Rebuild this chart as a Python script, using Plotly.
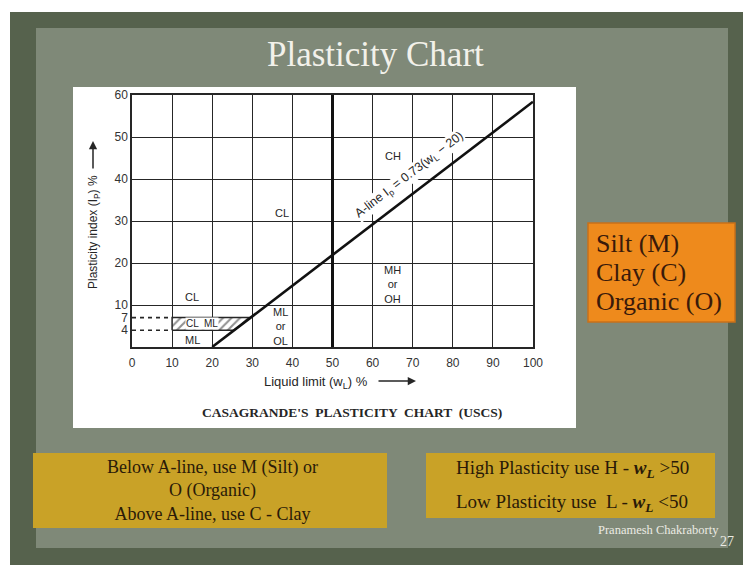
"""Casagrande plasticity chart on a slide, rebuilt with Plotly."""

import plotly.graph_objects as go

# ---- data -------------------------------------------------------------
x_ticks = [0, 10, 20, 30, 40, 50, 60, 70, 80, 90, 100]
y_ticks = [4, 7, 10, 20, 30, 40, 50, 60]
y_grid = [10, 20, 30, 40, 50, 60]

a_line_wl = [20, 100]
a_line_ip = [0.0, 58.4]

wl_boundary = [50, 50]
ip_boundary = [0, 60]

clml_wl = [10, 10, 29.6, 25.5, 10]
clml_ip = [4, 7, 7, 4, 4]

dash_wl = [0, 10]
dash_ip_low = [4, 4]
dash_ip_high = [7, 7]

zone_labels = ["CH", "CL", "CL", "MH<br>or<br>OH", "ML<br>or<br>OL", "ML"]
zone_wl = [65, 37.5, 15, 65, 37, 15.2]
zone_ip = [45.5, 31.8, 12, 15, 4.8, 1.6]

# ---- colours / fonts --------------------------------------------------
INK = "#262626"
SANS = "Liberation Sans, Arial"
SERIF = "Liberation Serif, Times New Roman, serif"

# plot area in pixels
L, R, T, B = 132, 533, 95, 347
W, H = 743, 565


def px(x):
    return (x - L) / (R - L)


def py(y):
    return (B - y) / (B - T)


def rect(x0, y0, x1, y1, fill, line=None, width=0):
    return dict(
        type="rect", xref="paper", yref="paper",
        x0=px(x0), x1=px(x1), y0=py(y1), y1=py(y0),
        fillcolor=fill, line=dict(color=line or fill, width=width),
        layer="below",
    )


def note(x, y, text, size, color, family=SERIF, xanchor="center", **kw):
    fig.add_annotation(
        xref="paper", yref="paper", x=px(x), y=py(y), text=text,
        xanchor=xanchor, yanchor="middle", showarrow=False,
        font=dict(family=family, size=size, color=color), **kw,
    )


def arrow(x0, y0, x1, y1):
    # tail (x0, y0) -> head (x1, y1), all in page pixels
    fig.add_annotation(
        xref="paper", yref="paper", x=px(x1), y=py(y1),
        ax=x0 - x1, ay=y0 - y1, axref="pixel", ayref="pixel", text="",
        showarrow=True, arrowhead=2, arrowsize=1.1, arrowwidth=1.5,
        arrowcolor=INK, standoff=0, startstandoff=0,
    )


fig = go.Figure()

# dashed guide lines for Ip = 4 and 7
for ys in (dash_ip_low, dash_ip_high):
    fig.add_trace(go.Scatter(
        x=dash_wl, y=ys, mode="lines",
        line=dict(color=INK, width=1.6, dash="4px,4px"),
        hoverinfo="skip",
    ))

# CL-ML hatched zone
fig.add_trace(go.Scatter(
    x=clml_wl, y=clml_ip, mode="lines", fill="toself",
    fillcolor="white",
    fillpattern=dict(shape="/", fgcolor=INK, bgcolor="white", size=6, solidity=0.35),
    line=dict(color=INK, width=1.5),
    hoverinfo="skip",
))

# wL = 50 boundary
fig.add_trace(go.Scatter(
    x=wl_boundary, y=ip_boundary, mode="lines",
    line=dict(color="#111", width=3), hoverinfo="skip",
))

# A-line
fig.add_trace(go.Scatter(
    x=a_line_wl, y=a_line_ip, mode="lines",
    line=dict(color="#111", width=2.6), hoverinfo="skip",
))

# zone labels
for txt, xv, yv in zip(zone_labels, zone_wl, zone_ip):
    fig.add_annotation(
        x=xv, y=yv, text=txt, showarrow=False,
        font=dict(family=SANS, size=11, color=INK),
    )

fig.add_annotation(
    x=17.5, y=5.5, text="CL  ML", showarrow=False, bgcolor="white",
    borderpad=0, font=dict(family=SANS, size=10, color=INK),
)

fig.add_annotation(
    x=69.3, y=41.0, text="A-line I<sub>p</sub> = 0.73(w<sub>L</sub> − 20)",
    showarrow=False, textangle=-37.5, bgcolor="white", borderpad=0,
    font=dict(family=SANS, size=12.5, color=INK),
)

# axis titles with arrows, caption
note(94, 232, "Plasticity index (I<sub>P</sub>) %", 12, INK, family=SANS, textangle=-90)
arrow(93, 170, 93, 141)
note(316, 382, "Liquid limit (w<sub>L</sub>) %", 13, INK, family=SANS)
arrow(377, 381, 416, 381)
note(352, 412, "<b>CASAGRANDE'S  PLASTICITY  CHART  (USCS)</b>", 13.5, INK)

# slide title and side notes
note(375, 55, "Plasticity Chart", 35, "#f2f1ea")

for i, line in enumerate(["Silt (M)", "Clay (C)", "Organic (O)"]):
    note(594, 243 + 29 * i, line, 26, "#3a1a0a", xanchor="left")

note(212, 490, "Below A-line, use M (Silt) or<br>O (Organic)<br>Above A-line, use C - Clay",
     18, "#2a1a08", align="center")
note(572, 469, "High Plasticity use H - <b><i>w<sub>L</sub></i></b> >50", 19, "#2a1a08")
note(572, 503, "Low Plasticity use  L - <b><i>w<sub>L</sub></i></b> <50", 19, "#2a1a08")
note(658, 530, "Pranamesh Chakraborty", 12.5, "#ecebe4")
note(727, 541, "27", 14, "#ecebe4")

shapes = [
    rect(10, 12, W, H, "#56624d"),
    rect(36, 28, 728, 548, "#7f8978"),
    rect(73, 87, 576, 428, "white"),
    rect(588, 223, 735, 322, "#ee8a1c", line="#c8701a", width=1.5),
    rect(33, 453, 387, 528, "#c9a227"),
    rect(426, 453, 715, 518, "#c9a227"),
]

fig.update_layout(
    width=W, height=H,
    margin=dict(l=L, r=W - R, t=T, b=H - B),
    paper_bgcolor="white",
    plot_bgcolor="white",
    showlegend=False,
    shapes=shapes,
    xaxis=dict(
        range=[0, 100], tickvals=x_ticks, showgrid=True,
        gridcolor=INK, gridwidth=1.3, zeroline=False,
        showline=True, mirror=True, linecolor=INK, linewidth=1.5,
        ticks="outside", ticklen=4, tickcolor="white",
        tickfont=dict(family=SANS, size=12, color="#333"),
        fixedrange=True,
    ),
    yaxis=dict(
        range=[0, 60], tickvals=y_ticks, showgrid=False, zeroline=False,
        minor=dict(tickvals=y_grid, showgrid=True, gridcolor=INK, gridwidth=1.3),
        showline=True, mirror=True, linecolor=INK, linewidth=1.5,
        tickfont=dict(family=SANS, size=12, color="#333"),
        fixedrange=True,
    ),
)

fig.write_html(
    "out.html",
    config={"displayModeBar": False},
    post_script="document.body.style.margin = '0';",
)
